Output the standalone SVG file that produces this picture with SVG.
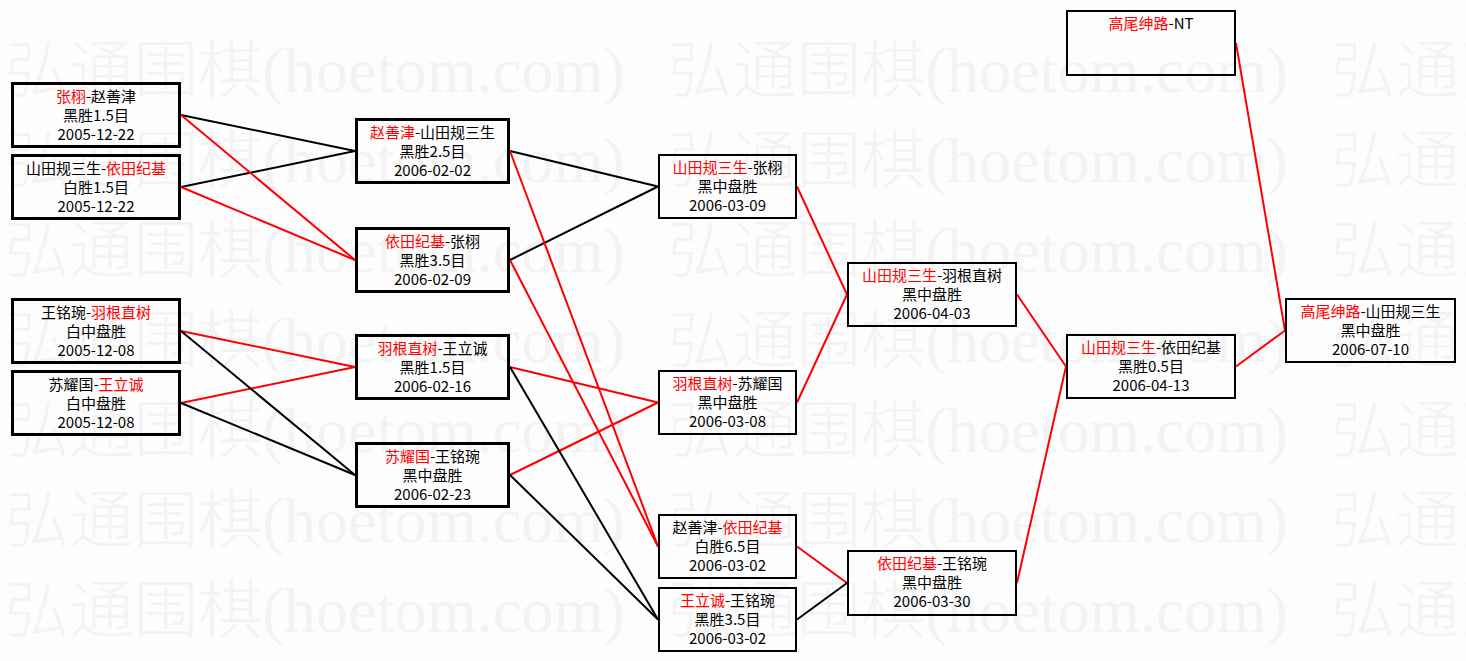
<svg xmlns="http://www.w3.org/2000/svg" xmlns:xlink="http://www.w3.org/1999/xlink" width="1466" height="661" viewBox="0 0 1466 661">
<style>
.wm{font-family:"Liberation Serif","Noto Sans CJK SC",serif;font-size:63px;font-weight:300;fill:#f3f3f3}
.b1{fill:none;stroke:#000;stroke-width:3}
.b2{fill:none;stroke:#000;stroke-width:2}
.t{font-family:"Noto Sans CJK SC",sans-serif;font-size:15px;text-anchor:middle;fill:#000}
.r{fill:#ff0000}
.k{stroke:#000;stroke-width:2;fill:none}
.d{stroke:#ff0000;stroke-width:2;fill:none}
</style>
<defs>
<text id="wmt" class="wm" textLength="620" lengthAdjust="spacingAndGlyphs">弘通围棋(hoetom.com)</text>
</defs>
<rect x="0" y="0" width="1466" height="661" fill="#fdfdfd"/>
<g id="watermark">
<use xlink:href="#wmt" x="5" y="92"/><use xlink:href="#wmt" x="668" y="92"/><use xlink:href="#wmt" x="1331" y="92"/>
<use xlink:href="#wmt" x="5" y="182"/><use xlink:href="#wmt" x="668" y="182"/><use xlink:href="#wmt" x="1331" y="182"/>
<use xlink:href="#wmt" x="5" y="272"/><use xlink:href="#wmt" x="668" y="272"/><use xlink:href="#wmt" x="1331" y="272"/>
<use xlink:href="#wmt" x="5" y="362"/><use xlink:href="#wmt" x="668" y="362"/><use xlink:href="#wmt" x="1331" y="362"/>
<use xlink:href="#wmt" x="5" y="452"/><use xlink:href="#wmt" x="668" y="452"/><use xlink:href="#wmt" x="1331" y="452"/>
<use xlink:href="#wmt" x="5" y="542"/><use xlink:href="#wmt" x="668" y="542"/><use xlink:href="#wmt" x="1331" y="542"/>
<use xlink:href="#wmt" x="5" y="632"/><use xlink:href="#wmt" x="668" y="632"/><use xlink:href="#wmt" x="1331" y="632"/>
</g>
<g id="connectors">
<line class="k" x1="181" y1="115" x2="355" y2="151"/>
<line class="k" x1="181" y1="187" x2="355" y2="151"/>
<line class="d" x1="181" y1="115" x2="355" y2="260"/>
<line class="d" x1="181" y1="187" x2="355" y2="260"/>
<line class="d" x1="181" y1="331" x2="355" y2="367"/>
<line class="d" x1="181" y1="403" x2="355" y2="367"/>
<line class="k" x1="181" y1="331" x2="355" y2="475"/>
<line class="k" x1="181" y1="403" x2="355" y2="475"/>
<line class="k" x1="510" y1="151" x2="658" y2="186.5"/>
<line class="k" x1="510" y1="260" x2="658" y2="186.5"/>
<line class="d" x1="510" y1="151" x2="658" y2="546.5"/>
<line class="d" x1="510" y1="260" x2="658" y2="546.5"/>
<line class="d" x1="510" y1="367" x2="658" y2="402.5"/>
<line class="d" x1="510" y1="475" x2="658" y2="402.5"/>
<line class="k" x1="510" y1="367" x2="658" y2="619.5"/>
<line class="k" x1="510" y1="475" x2="658" y2="619.5"/>
<line class="d" x1="797" y1="186.5" x2="847" y2="294.5"/>
<line class="d" x1="797" y1="402.5" x2="847" y2="294.5"/>
<line class="d" x1="797" y1="546.5" x2="847" y2="583"/>
<line class="k" x1="797" y1="619.5" x2="847" y2="583"/>
<line class="d" x1="1017" y1="294.5" x2="1066" y2="366.5"/>
<line class="d" x1="1017" y1="583" x2="1066" y2="366.5"/>
<line class="d" x1="1236" y1="43" x2="1285" y2="330.5"/>
<line class="d" x1="1236" y1="366.5" x2="1285" y2="330.5"/>
</g>
<g id="nA"><rect class="b1" x="12.5" y="83.5" width="167" height="63"/>
<text class="t" x="96" y="102"><tspan class="r">张栩</tspan>-赵善津</text><text class="t" x="96" y="121">黑胜1.5目</text><text class="t" x="96" y="140">2005-12-22</text></g>
<g id="nB"><rect class="b1" x="12.5" y="155.5" width="167" height="63"/>
<text class="t" x="96" y="174">山田规三生-<tspan class="r">依田纪基</tspan></text><text class="t" x="96" y="193">白胜1.5目</text><text class="t" x="96" y="212">2005-12-22</text></g>
<g id="nC"><rect class="b1" x="12.5" y="299.5" width="167" height="63"/>
<text class="t" x="96" y="318">王铭琬-<tspan class="r">羽根直树</tspan></text><text class="t" x="96" y="337">白中盘胜</text><text class="t" x="96" y="356">2005-12-08</text></g>
<g id="nD"><rect class="b1" x="12.5" y="371.5" width="167" height="63"/>
<text class="t" x="96" y="390">苏耀国-<tspan class="r">王立诚</tspan></text><text class="t" x="96" y="409">白中盘胜</text><text class="t" x="96" y="428">2005-12-08</text></g>
<g id="nE"><rect class="b1" x="356.5" y="119.5" width="152" height="63"/>
<text class="t" x="432.5" y="138"><tspan class="r">赵善津</tspan>-山田规三生</text><text class="t" x="432.5" y="157">黑胜2.5目</text><text class="t" x="432.5" y="176">2006-02-02</text></g>
<g id="nF"><rect class="b1" x="356.5" y="228.5" width="152" height="63"/>
<text class="t" x="432.5" y="247"><tspan class="r">依田纪基</tspan>-张栩</text><text class="t" x="432.5" y="266">黑胜3.5目</text><text class="t" x="432.5" y="285">2006-02-09</text></g>
<g id="nG"><rect class="b1" x="356.5" y="335.5" width="152" height="63"/>
<text class="t" x="432.5" y="354"><tspan class="r">羽根直树</tspan>-王立诚</text><text class="t" x="432.5" y="373">黑胜1.5目</text><text class="t" x="432.5" y="392">2006-02-16</text></g>
<g id="nH"><rect class="b1" x="356.5" y="443.5" width="152" height="63"/>
<text class="t" x="432.5" y="462"><tspan class="r">苏耀国</tspan>-王铭琬</text><text class="t" x="432.5" y="481">黑中盘胜</text><text class="t" x="432.5" y="500">2006-02-23</text></g>
<g id="nI"><rect class="b2" x="659" y="155" width="137" height="63"/>
<text class="t" x="727.5" y="173"><tspan class="r">山田规三生</tspan>-张栩</text><text class="t" x="727.5" y="192">黑中盘胜</text><text class="t" x="727.5" y="211">2006-03-09</text></g>
<g id="nJ"><rect class="b2" x="659" y="371" width="137" height="63"/>
<text class="t" x="727.5" y="389"><tspan class="r">羽根直树</tspan>-苏耀国</text><text class="t" x="727.5" y="408">黑中盘胜</text><text class="t" x="727.5" y="427">2006-03-08</text></g>
<g id="nK"><rect class="b2" x="659" y="515" width="137" height="63"/>
<text class="t" x="727.5" y="533">赵善津-<tspan class="r">依田纪基</tspan></text><text class="t" x="727.5" y="552">白胜6.5目</text><text class="t" x="727.5" y="571">2006-03-02</text></g>
<g id="nL"><rect class="b2" x="659" y="588" width="137" height="63"/>
<text class="t" x="727.5" y="606"><tspan class="r">王立诚</tspan>-王铭琬</text><text class="t" x="727.5" y="625">黑胜3.5目</text><text class="t" x="727.5" y="644">2006-03-02</text></g>
<g id="nM"><rect class="b2" x="848" y="263" width="168" height="63"/>
<text class="t" x="932" y="281"><tspan class="r">山田规三生</tspan>-羽根直树</text><text class="t" x="932" y="300">黑中盘胜</text><text class="t" x="932" y="319">2006-04-03</text></g>
<g id="nN"><rect class="b2" x="848" y="551" width="168" height="64"/>
<text class="t" x="932" y="569"><tspan class="r">依田纪基</tspan>-王铭琬</text><text class="t" x="932" y="588">黑中盘胜</text><text class="t" x="932" y="607">2006-03-30</text></g>
<g id="nO"><rect class="b2" x="1067" y="11" width="168" height="64"/>
<text class="t" x="1151" y="29"><tspan class="r">高尾绅路</tspan>-NT</text></g>
<g id="nP"><rect class="b2" x="1067" y="335" width="168" height="63"/>
<text class="t" x="1151" y="353"><tspan class="r">山田规三生</tspan>-依田纪基</text><text class="t" x="1151" y="372">黑胜0.5目</text><text class="t" x="1151" y="391">2006-04-13</text></g>
<g id="nQ"><rect class="b2" x="1286" y="299" width="169" height="63"/>
<text class="t" x="1370.5" y="317"><tspan class="r">高尾绅路</tspan>-山田规三生</text><text class="t" x="1370.5" y="336">黑中盘胜</text><text class="t" x="1370.5" y="355">2006-07-10</text></g>
</svg>
